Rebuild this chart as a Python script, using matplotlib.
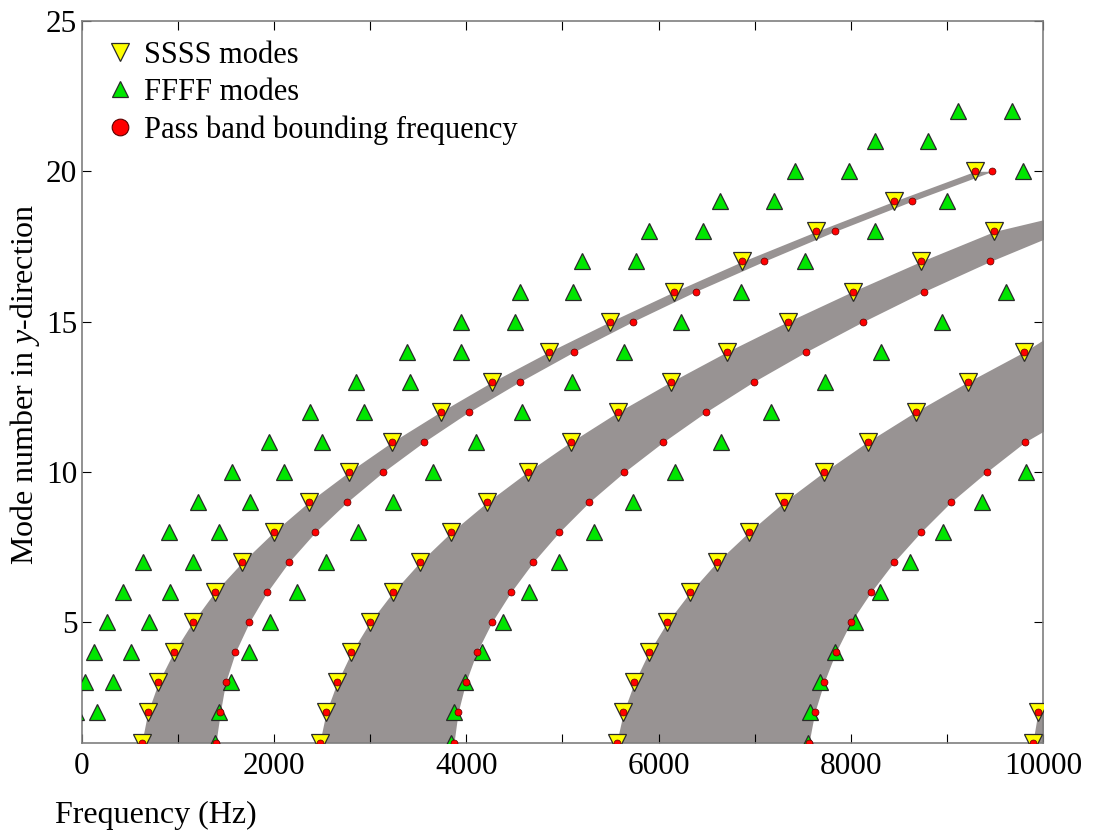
import matplotlib
matplotlib.use('Agg')
import matplotlib.pyplot as plt
from matplotlib.lines import Line2D
import numpy as np

plt.rcParams['font.family'] = ['Liberation Serif', 'DejaVu Serif']
plt.rcParams['mathtext.fontset'] = 'custom'
plt.rcParams['mathtext.rm'] = 'Liberation Serif'
plt.rcParams['mathtext.it'] = 'Liberation Serif:italic'

# SSSS modes (lower bound of each pass band), mode number 1, 2, 3 ...
ssss_a = [627, 689, 800, 957, 1155, 1384, 1672, 1998, 2363, 2780, 3231, 3734,
          4272, 4863, 5497, 6165, 6870, 7641, 8446, 9290]
ssss_b = [2477, 2543, 2658, 2807, 2998, 3238, 3519, 3845, 4220, 4637, 5089,
          5582, 6130, 6714, 7345, 8016, 8727, 9491]
ssss_c = [5564, 5634, 5748, 5898, 6089, 6328, 6606, 6939, 7304, 7720, 8172,
          8672, 9220, 9804]
ssss_d = [9891, 9943]

# upper bounding frequency of each pass band
upper_a = [1398, 1443, 1498, 1599, 1745, 1929, 2155, 2432, 2762, 3137, 3561,
           4030, 4557, 5123, 5731, 6384, 7092, 7832, 8630, 9470]
upper_b = [3873, 3915, 3995, 4109, 4266, 4464, 4696, 4967, 5279, 5644, 6050,
           6495, 6988, 7536, 8127, 8759, 9446]
upper_c = [7564, 7623, 7720, 7842, 7998, 8207, 8446, 8727, 9040, 9411, 9811]

# band edges continued past the right frame (estimated where gray leaves the plot)
extra_lo_b = [10800]
extra_hi_b = [10200, 10950]
extra_lo_c = [10300]
extra_hi_c = [10350, 10800, 11300, 11800]
extra_lo_d = [10120]
band_d_hi = [11400, 11450, 11550]

# FFFF modes, one list per branch, starting at mode number given
ffff_1 = [-60, -60, 33, 130, 262, 429, 644, 908, 1210, 1564, 1946, 2380, 2856,
          3387, 3950, 4557, 5203, 5905, 6640, 7415, 8248, 9116]          # from 1
ffff_2 = [158, 332, 512, 703, 915, 1155, 1432, 1755, 2102, 2502, 2936, 3420,
          3943, 4505, 5113, 5766, 6460, 7196, 7981, 8804, 9672]          # from 2
ffff_3 = [1391, 1432, 1557, 1745, 1964, 2241, 2543, 2873, 3241, 3655, 4099,
          4575, 5095, 5637, 6234, 6859, 7526, 8248, 8995, 9793]          # from 1
ffff_4 = [3845, 3873, 3988, 4161, 4384, 4648, 4967, 5325, 5731, 6172, 6651,
          7165, 7727, 8307, 8943, 9613]                                   # from 1
ffff_5 = [7554, 7578, 7675, 7832, 8047, 8300, 8613, 8960, 9366, 9818]   # from 1

band_gray = '#989393'

fig = plt.figure(figsize=(10.94, 8.35), dpi=100)
ax = fig.add_axes([0.0745, 0.1107, 0.8792, 0.8642])

def modes(vals, start=1):
    return np.arange(start, start + len(vals))

bands = [(ssss_a, upper_a),
         (ssss_b + extra_lo_b, upper_b + extra_hi_b),
         (ssss_c + extra_lo_c, upper_c + extra_hi_c),
         (ssss_d + extra_lo_d, band_d_hi)]
for lo, hi in bands:
    ax.fill_betweenx(modes(lo), lo, hi, color=band_gray, lw=0, zorder=1)

# FFFF
fx, fy = [], []
for br, st in [(ffff_1, 1), (ffff_2, 2), (ffff_3, 1), (ffff_4, 1), (ffff_5, 1)]:
    fx += br
    fy += list(modes(br, st))
ax.plot(fx, fy, ls='none', marker='^', ms=12, mfc='#00e600', mec='#2a2a2a',
        mew=0.9, zorder=3)

# SSSS
sx, sy = [], []
for br in [ssss_a, ssss_b, ssss_c, ssss_d]:
    sx += br
    sy += list(modes(br))
ax.plot(sx, sy, ls='none', marker='v', ms=12.5, mfc='#ffff00', mec='#2a2a2a',
        mew=0.9, zorder=4)

# pass band bounding frequencies
rx, ry = list(sx), list(sy)
for br in [upper_a, upper_b, upper_c]:
    rx += br
    ry += list(modes(br))
ax.plot(rx, ry, ls='none', marker='o', ms=5, mfc='#ff0000', mec='#5a0000',
        mew=0.5, zorder=5)

ax.set_xlim(0, 10000)
ax.set_ylim(1, 25)
ax.set_xticks(np.arange(0, 10001, 1000))
ax.set_xticklabels([str(v) if v % 2000 == 0 else '' for v in range(0, 10001, 1000)])
ax.set_yticks([5, 10, 15, 20, 25])
ax.tick_params(direction='in', length=6.5, width=0.8, color='black',
               top=True, right=True, labelsize=22.5, pad=3)
ax.tick_params(axis='x', pad=6.5)
for s in ax.spines.values():
    s.set_color('#7f7f7f')
    s.set_linewidth(1.2)

fig.text(55 / 1094, 1 - 815 / 835, 'Frequency (Hz)', ha='left', va='center',
         fontsize=23)
fig.text(25 / 1094, 1 - 384 / 835, 'Mode number in $y$-direction', rotation=90,
         ha='center', va='center', fontsize=23)

handles = [
    Line2D([], [], ls='none', marker='v', ms=12.5, mfc='#ffff00', mec='#2a2a2a', mew=0.9),
    Line2D([], [], ls='none', marker='^', ms=12, mfc='#00e600', mec='#2a2a2a', mew=0.9),
    Line2D([], [], ls='none', marker='o', ms=12, mfc='#ff0000', mec='#5a0000', mew=0.8),
]
labels = ['SSSS modes', 'FFFF modes', 'Pass band bounding frequency']
ax.legend(handles, labels, loc='upper left', frameon=False, fontsize=22,
          bbox_to_anchor=(0.005, 1.0), borderaxespad=0.25, handlelength=0.9,
          handletextpad=0.35, labelspacing=0.27, borderpad=0.4)

fig.savefig('out.png', dpi=100)
